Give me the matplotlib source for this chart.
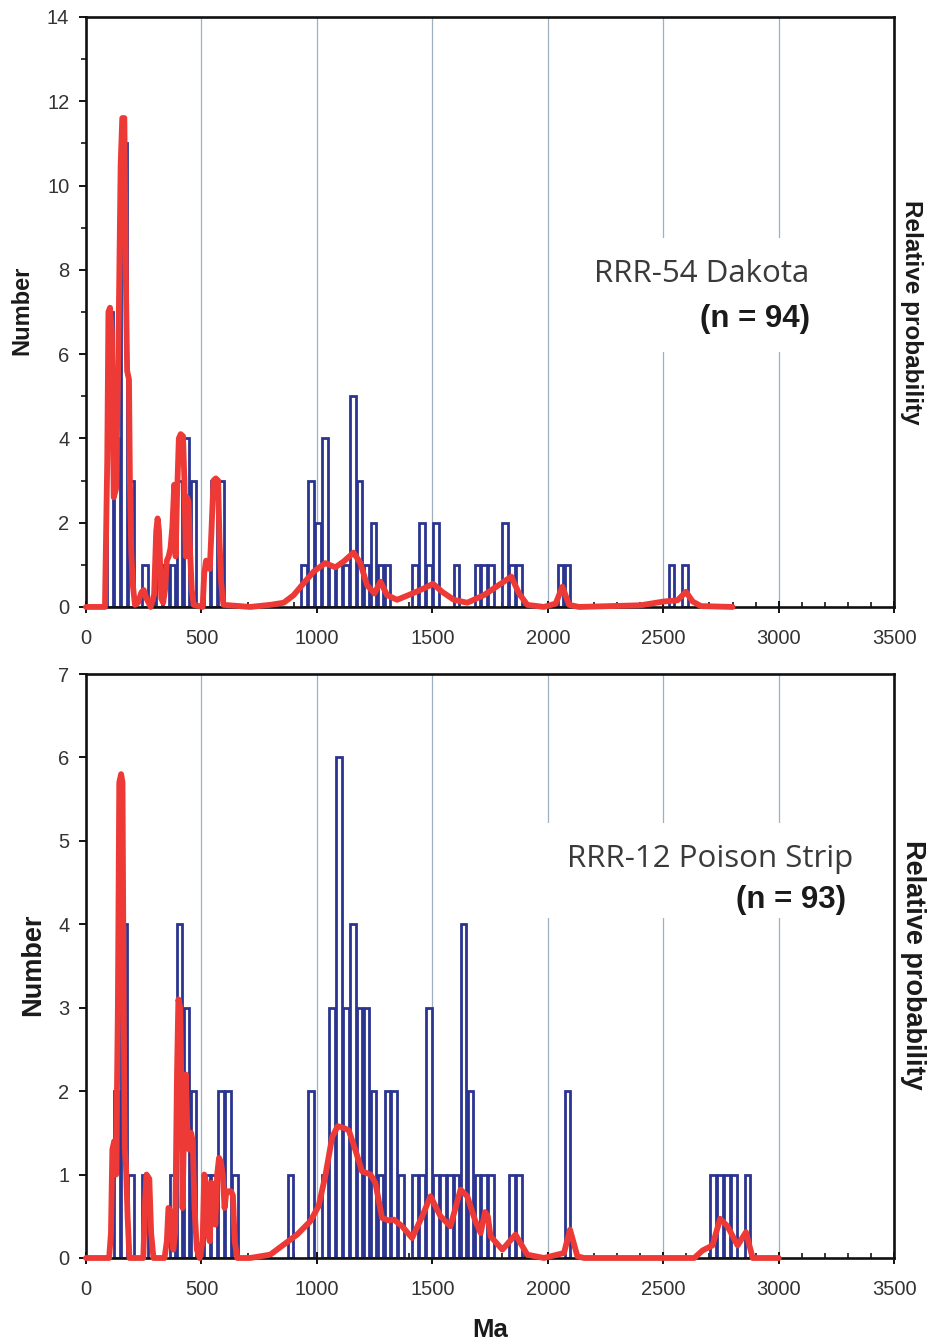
import matplotlib
matplotlib.use("Agg")
import matplotlib.pyplot as plt
import matplotlib.ticker as ticker
from matplotlib.patches import Rectangle

# ── detrital zircon age histograms (30 Ma bins, left edges in Ma) ─────────────
top_bin_left = [90, 120, 150, 180, 240, 300, 330, 360, 390, 420, 450,
                510, 540, 570,
                930, 960, 990, 1020, 1050, 1080, 1110, 1140, 1170, 1200,
                1230, 1260, 1290, 1410, 1440, 1470, 1500, 1590, 1680, 1710,
                1740, 1800, 1830, 1860, 2040, 2070, 2520, 2580]
top_counts = [7, 4, 11, 3, 1, 1, 1, 1, 3, 4, 3,
              1, 3, 3,
              1, 3, 2, 4, 1, 1, 1, 5, 3, 1,
              2, 1, 1, 1, 2, 1, 2, 1, 1, 1,
              1, 2, 1, 1, 1, 1, 1, 1]

bot_bin_left = [120, 150, 180, 240, 360, 390, 420, 450,
                510, 540, 570, 600, 630,
                870, 960, 1020, 1050, 1080, 1110, 1140, 1170, 1200, 1230,
                1260, 1290, 1320, 1350, 1410, 1440, 1470, 1500, 1530, 1560,
                1590, 1620, 1650, 1680, 1710, 1740, 1830, 1860, 2070,
                2700, 2730, 2760, 2790, 2850]
bot_counts = [2, 4, 1, 1, 1, 4, 3, 2,
              1, 1, 2, 2, 1,
              1, 2, 1, 3, 6, 3, 4, 3, 3, 2,
              1, 2, 2, 1, 1, 1, 3, 1, 1, 1,
              1, 4, 2, 1, 1, 1, 1, 1, 2,
              1, 1, 1, 1, 1]

# ── relative probability curves (in "Number" units) ───────────────────────────
top_prob_age = [0, 82, 92, 97, 104, 112, 120, 130, 140, 150, 157, 166, 172,
                178, 186, 190, 196, 203, 212, 225, 240, 250, 262, 280, 295,
                304, 310, 316, 326, 334, 342, 350, 358, 366, 374, 382, 388,
                394, 402, 410, 420, 426, 432, 438, 444, 450, 458, 466, 505,
                512, 520, 528, 536, 544, 552, 562, 572, 578, 585, 595, 711,
                798, 856, 899, 942, 986, 1036, 1080, 1116, 1159, 1188, 1217,
                1249, 1275, 1304, 1347, 1405, 1463, 1503, 1542, 1593, 1651,
                1723, 1788, 1842, 1875, 1911, 1983, 2034, 2063, 2092, 2135,
                2402, 2503, 2562, 2598, 2627, 2663, 2800]
top_prob_val = [0, 0, 3.5, 7.0, 7.1, 6.5, 2.6, 2.8, 6.0, 10.5, 11.6, 11.6, 8.0,
                5.6, 5.4, 3.0, 1.3, 0.5, 0.05, 0.1, 0.35, 0.4, 0.2, 0.0, 0.3,
                1.8, 2.1, 1.8, 0.2, 0.1, 0.4, 1.1, 1.2, 1.4, 1.9, 2.9, 1.2,
                2.6, 4.0, 4.1, 4.05, 3.0, 1.2, 2.6, 2.5, 1.4, 0.4, 0.05, 0,
                0.8, 1.1, 1.0, 0.9, 1.9, 3.0, 3.05, 3.0, 1.6, 0.6, 0.05, 0,
                0.05, 0.1, 0.28, 0.56, 0.84, 1.04, 0.94, 1.08, 1.29, 1.04, 0.52,
                0.32, 0.6, 0.28, 0.17, 0.3, 0.44, 0.55, 0.36, 0.17, 0.1,
                0.28, 0.52, 0.72, 0.32, 0.05, 0.0, 0.08, 0.48, 0.05, 0,
                0.04, 0.13, 0.16, 0.36, 0.13, 0.02, 0]

bot_prob_age = [0, 100, 108, 114, 122, 130, 138, 144, 152, 158, 163, 168, 173,
                180, 188, 248, 256, 262, 274, 282, 292, 340, 350, 357, 368,
                378, 386, 394, 400, 408, 414, 418, 424, 432, 438, 446, 455,
                462, 470, 480, 492, 505, 512, 520, 528, 536, 544, 552, 560,
                568, 576, 584, 592, 600, 608, 618, 628, 636, 644, 655, 711,
                798, 856, 914, 971, 1007, 1036, 1066, 1090, 1115, 1138, 1167,
                1195, 1232, 1253, 1282, 1310, 1333, 1369, 1412, 1456, 1492,
                1535, 1578, 1622, 1651, 1685, 1709, 1728, 1740, 1752, 1803,
                1860, 1911, 1983, 2070, 2096, 2128, 2157, 2634, 2670, 2713,
                2746, 2778, 2822, 2858, 2887, 3000]
bot_prob_val = [0, 0, 0.3, 1.3, 1.4, 1.0, 3.0, 5.7, 5.8, 5.7, 3.0, 1.3, 1.1,
                0.5, 0.0, 0, 0.7, 1.0, 0.95, 0.3, 0, 0, 0.2, 0.6, 0.55,
                0.1, 0.3, 2.2, 3.1, 3.0, 1.8, 0.6, 1.5, 2.2, 1.6, 1.3, 1.5,
                1.4, 0.6, 0.1, 0, 0.2, 1.0, 0.9, 0.3, 0.2, 0.9, 0.8, 0.4,
                1.0, 1.2, 1.15, 1.0, 0.6, 0.8, 0.8, 0.8, 0.75, 0.2, 0, 0,
                0.04, 0.16, 0.28, 0.44, 0.62, 0.98, 1.45, 1.58, 1.56, 1.53, 1.29,
                1.04, 1.0, 0.9, 0.48, 0.45, 0.46, 0.38, 0.24, 0.5, 0.74,
                0.5, 0.38, 0.82, 0.74, 0.45, 0.3, 0.55, 0.5, 0.26, 0.1,
                0.28, 0.04, 0, 0.06, 0.34, 0.02, 0, 0, 0.09, 0.15,
                0.47, 0.38, 0.15, 0.31, 0, 0]

BIN = 30
BAR_BLUE = "#2b3490"
RED = "#ee3a36"
GRID = "#9fb0c0"
TICK_TXT = "#333333"

fig = plt.figure(figsize=(9.3, 13.44), dpi=100)
ax_top = fig.add_axes([0.0925, 0.5484, 0.8690, 0.4390])
ax_bot = fig.add_axes([0.0925, 0.0640, 0.8690, 0.4345])


def style_axes(ax, ymax, yminor):
    ax.set_xlim(0, 3500)
    ax.set_ylim(0, ymax)
    ax.set_axisbelow(True)
    ax.xaxis.set_major_locator(ticker.MultipleLocator(500))
    ax.xaxis.set_minor_locator(ticker.MultipleLocator(100))
    ax.yaxis.set_major_locator(ticker.MultipleLocator(2 if ymax > 10 else 1))
    if yminor:
        ax.yaxis.set_minor_locator(ticker.MultipleLocator(1))
    ax.xaxis.grid(True, which="major", color=GRID, lw=0.9)
    for s in ax.spines.values():
        s.set_linewidth(1.9)
        s.set_color("#111111")
    ax.tick_params(axis="x", which="major", direction="inout", length=8,
                   width=1.3, pad=12, labelsize=14.5, labelcolor=TICK_TXT)
    ax.tick_params(axis="x", which="minor", direction="in", length=3.5,
                   width=1.1)
    ax.tick_params(axis="y", which="major", direction="out", length=5,
                   width=1.3, pad=7, labelsize=14.5, labelcolor=TICK_TXT)
    ax.tick_params(axis="y", which="minor", direction="out", length=3.5,
                   width=1.1)
    for lab in ax.get_xticklabels() + ax.get_yticklabels():
        lab.set_family("Liberation Sans")


def draw_panel(ax, bins, counts, p_age, p_val):
    lefts = [b + BIN * 0.09 for b in bins]
    ax.bar(lefts, counts, width=BIN * 0.82, align="edge", facecolor="white",
           edgecolor=BAR_BLUE, linewidth=2.0, zorder=2)
    ax.plot(p_age, p_val, color=RED, lw=4.2, solid_joinstyle="round",
            solid_capstyle="round", zorder=4, clip_on=False)


draw_panel(ax_top, top_bin_left, top_counts, top_prob_age, top_prob_val)
draw_panel(ax_bot, bot_bin_left, bot_counts, bot_prob_age, bot_prob_val)
style_axes(ax_top, 14, True)
style_axes(ax_bot, 7, False)

# white label boxes that interrupt the grid lines
ax_top.add_patch(Rectangle((2150, 6.05), 1150, 2.7, facecolor="white",
                           edgecolor="none", zorder=1))
ax_bot.add_patch(Rectangle((1985, 4.07), 1450, 1.15, facecolor="white",
                           edgecolor="none", zorder=1))

ax_top.text(3131, 7.71, "RRR-54 Dakota", ha="right", va="baseline",
            family="Open Sans", fontsize=22.5, color="#3a3a3a", zorder=5)
ax_top.text(3135, 6.64, "(n = 94)", ha="right", va="baseline",
            family="Liberation Sans", fontweight="bold", fontsize=22.5,
            color="#1a1a1a", zorder=5)
ax_bot.text(3322, 4.69, "RRR-12 Poison Strip", ha="right", va="baseline",
            family="Open Sans", fontsize=22.5, color="#3a3a3a", zorder=5)
ax_bot.text(3291, 4.19, "(n = 93)", ha="right", va="baseline",
            family="Liberation Sans", fontweight="bold", fontsize=22.5,
            color="#1a1a1a", zorder=5)

lab = dict(family="Liberation Sans", fontweight="bold", color="#1a1a1a")
fig.text(22 / 930, 1 - 310 / 1344, "Number", rotation=90, ha="center",
         va="center", fontsize=17, **lab)
fig.text(911 / 930, 1 - 312 / 1344, "Relative probability", rotation=-90,
         ha="center", va="center", fontsize=17.5, **lab)
fig.text(33 / 930, 1 - 965 / 1344, "Number", rotation=90, ha="center",
         va="center", fontsize=19.5, **lab)
fig.text(913 / 930, 1 - 965 / 1344, "Relative probability", rotation=-90,
         ha="center", va="center", fontsize=19.5, **lab)
fig.text(490 / 930, 1 - 1330 / 1344, "Ma", ha="center", va="center",
         fontsize=18.5, **lab)

fig.savefig("out.png", dpi=100)
